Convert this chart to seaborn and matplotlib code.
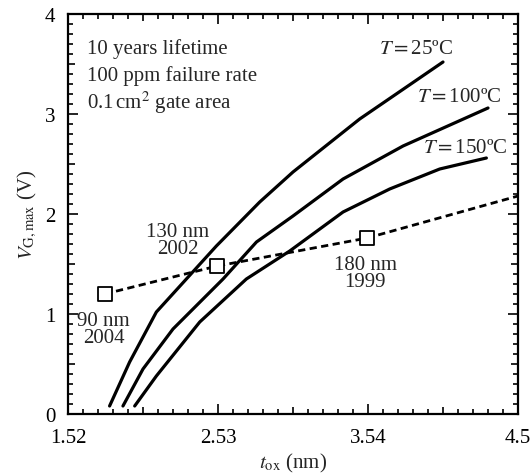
import numpy as np
import pandas as pd
import matplotlib
matplotlib.use("Agg")
import matplotlib.pyplot as plt
from matplotlib.ticker import MultipleLocator, FixedLocator
import seaborn as sns

# -----------------------------
# Data
# -----------------------------
tox_25 = [1.80, 1.935, 2.115, 2.519, 2.811, 3.035, 3.484, 4.045]
vg_25 = [0.08, 0.52, 1.02, 1.68, 2.12, 2.42, 2.95, 3.52]

tox_100 = [1.89, 2.025, 2.227, 2.564, 2.789, 3.035, 3.372, 3.776, 4.348]
vg_100 = [0.08, 0.45, 0.85, 1.35, 1.72, 1.98, 2.35, 2.68, 3.06]

tox_150 = [1.969, 2.115, 2.407, 2.721, 3.013, 3.372, 3.686, 4.023, 4.337]
vg_150 = [0.08, 0.38, 0.92, 1.35, 1.63, 2.02, 2.25, 2.45, 2.56]

node_tox = [1.767, 2.525, 3.535]
node_vg = [1.20, 1.48, 1.76]
node_labels = ["90 nm\n2004", "130 nm\n2002", "180 nm\n1999"]
trend_tox = node_tox + [4.55]
trend_vg = node_vg + [2.18]

x_ticks = [1.52, 2.53, 3.54, 4.55]
x_tick_labels = ["1.52", "2.53", "3.54", "4.5"]

sns.set_theme(style="ticks")
plt.rcParams['font.family'] = ['Liberation Serif', 'DejaVu Serif']
plt.rcParams['mathtext.fontset'] = 'stix'
plt.rcParams['font.size'] = 15

fig = plt.figure(figsize=(5.3, 4.77), dpi=100)
ax = fig.add_axes([68 / 530, 62 / 477, 450 / 530, 400 / 477])

# -----------------------------
# Curves
# -----------------------------
for xs, ys in [(tox_25, vg_25), (tox_100, vg_100), (tox_150, vg_150)]:
    sns.lineplot(x=xs, y=ys, sort=False, color="black", lw=2.3, ax=ax)

sns.lineplot(x=trend_tox, y=trend_vg, sort=False, color="black", lw=2.0,
             linestyle=(0, (2.6, 1.6)), ax=ax)
sns.scatterplot(x=node_tox, y=node_vg, marker="s", s=110, facecolor="white",
                edgecolor="black", linewidth=1.3, zorder=5, ax=ax)

# -----------------------------
# Annotations
# -----------------------------
fs = 15
ax.text(1.645, 3.66, "10 years lifetime", ha="left", va="center", fontsize=fs)
ax.text(1.645, 3.39, "100 ppm failure rate", ha="left", va="center", fontsize=fs)
ax.text(1.645, 3.12, r"0.1$\,$cm$^2$ gate area", ha="left", va="center", fontsize=fs)

ax.text(4.11, 3.65, r"$T{=}$25ºC", ha="right", va="center", fontsize=fs)
ax.text(4.44, 3.17, r"$T{=}$100ºC", ha="right", va="center", fontsize=fs)
ax.text(4.48, 2.66, r"$T{=}$150ºC", ha="right", va="center", fontsize=fs)

ax.text(1.76, 0.85, node_labels[0], ha="center", va="center", fontsize=fs, linespacing=0.9)
ax.text(2.26, 1.74, node_labels[1], ha="center", va="center", fontsize=fs, linespacing=0.9)
ax.text(3.52, 1.41, node_labels[2], ha="center", va="center", fontsize=fs, linespacing=0.9)

# -----------------------------
# Axes
# -----------------------------
ax.set_xlim(1.52, 4.55)
ax.set_ylim(0, 4)
ax.set_xlabel(r"$t_{\mathrm{ox}}$ (nm)", fontsize=fs, labelpad=3)
ax.set_ylabel(r"$V_{\mathrm{G,max}}$ (V)", fontsize=fs, labelpad=4)

x_major = sorted(x_ticks + [(a + b) / 2 for a, b in zip(x_ticks[:-1], x_ticks[1:])])
ax.xaxis.set_major_locator(FixedLocator(x_major))
ax.set_xticklabels([x_tick_labels[x_ticks.index(v)] if v in x_ticks else "" for v in x_major])
ax.xaxis.set_minor_locator(FixedLocator([1.52 + 0.101 * i for i in range(31)]))

y_major = np.arange(0, 4.01, 0.5)
ax.set_yticks(y_major)
ax.set_yticklabels([str(int(v)) if v == int(v) else "" for v in y_major])
ax.yaxis.set_minor_locator(MultipleLocator(0.1))

ax.tick_params(which="both", direction="in", top=True, right=True, width=1.2,
               colors="black", labelsize=fs)
ax.tick_params(axis="x", pad=10)
ax.tick_params(axis="y", pad=9)
ax.tick_params(which="major", length=7)
ax.tick_params(which="minor", length=3.5)

# medium ticks at half steps
for axis, labels_pos in [(ax.xaxis, x_ticks), (ax.yaxis, [0, 1, 2, 3, 4])]:
    for tick, loc in zip(axis.get_major_ticks(), axis.get_majorticklocs()):
        if not any(abs(loc - p) < 1e-6 for p in labels_pos):
            tick.tick1line.set_markersize(5)
            tick.tick2line.set_markersize(5)

for sp in ax.spines.values():
    sp.set_visible(True)
    sp.set_linewidth(1.6)
    sp.set_color("black")

fig.savefig("out.png", dpi=100)
